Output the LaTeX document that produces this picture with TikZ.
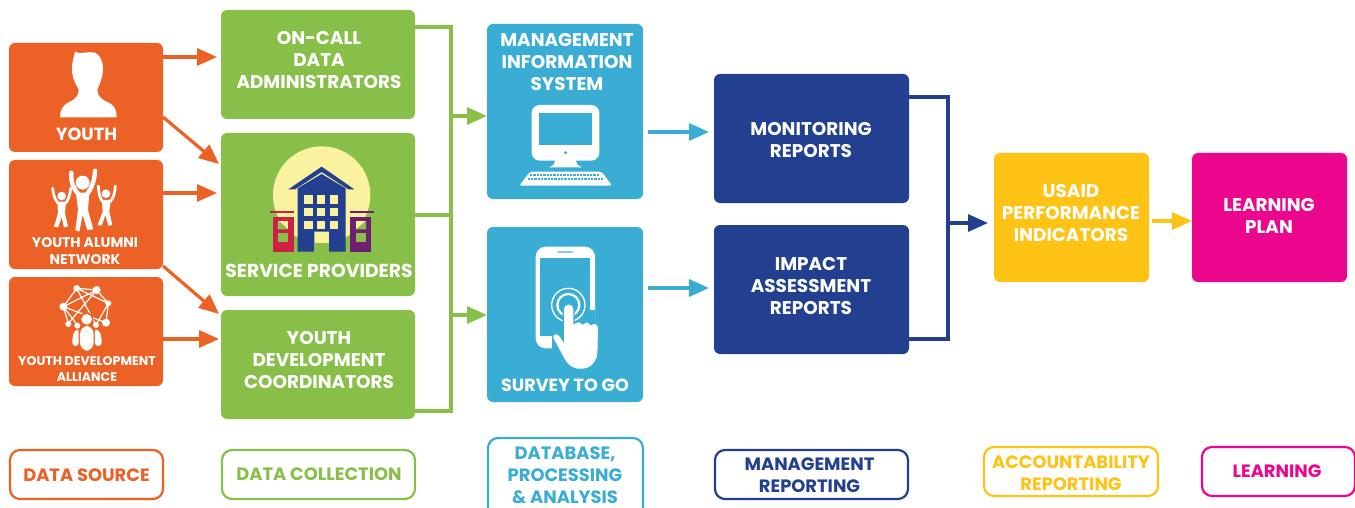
\documentclass[tikz,border=0pt]{standalone}
\usepackage{fontspec}
\setmainfont{Poppins}
\usetikzlibrary{arrows.meta,calc}
\definecolor{cOr}{HTML}{EC6125}
\definecolor{cGr}{HTML}{88BF49}
\definecolor{cBl}{HTML}{39ADD4}
\definecolor{cNv}{HTML}{233F8F}
\definecolor{cYe}{HTML}{FEC314}
\definecolor{cPk}{HTML}{EC068D}
\definecolor{cSun}{HTML}{FBF29F}
\definecolor{cRed}{HTML}{D01F45}
\definecolor{cPu}{HTML}{6E1F6E}
\tikzset{
 x=1pt,y=-1pt,
 panel/.style={rounded corners=6pt,anchor=north west,inner sep=0pt,outer sep=0pt},
 lbl/.style={font=\fontsize{18.4}{22.4}\selectfont\bfseries,text=white,align=center,inner sep=0pt},
 lblb/.style={font=\fontsize{17.6}{22.4}\selectfont\bfseries,text=white,align=center,inner sep=0pt},
 sml/.style={font=\fontsize{14}{17.6}\selectfont\bfseries,text=white,align=center,inner sep=0pt},
 smlr/.style={font=\fontsize{12.6}{16}\selectfont\bfseries,text=white,align=center,inner sep=0pt},
 legend/.style={panel,draw,fill=white,line width=2.2pt,rounded corners=10pt},
 ltxt/.style={font=\fontsize{17.9}{22}\selectfont\bfseries,align=center,inner sep=0pt},
 conn/.style={line width=3.4pt},
 arr/.style={line width=3.2pt,-{Triangle[length=20pt,width=17pt]}},
}
\newcommand{\pbox}[6]{\node[panel,fill=#2,minimum width=#5pt,minimum height=#6pt] (#1) at (#3,#4) {};}
\begin{document}
\begin{tikzpicture}
\clip (0,0) rectangle (1355,508);
\fill[white] (0,0) rectangle (1355,508);
% panels
\pbox{youth}{cOr}{9}{43}{154}{109}
\pbox{alumni}{cOr}{9}{160}{154}{109}
\pbox{alliance}{cOr}{9}{277}{154}{109}
\pbox{oncall}{cGr}{221}{10}{194}{109}
\pbox{service}{cGr}{221}{133}{194}{163}
\pbox{coord}{cGr}{221}{310}{194}{109}
\pbox{mis}{cBl}{487}{24}{156}{175}
\pbox{survey}{cBl}{487}{227}{156}{175}
\pbox{monitor}{cNv}{714}{74}{195}{129}
\pbox{impact}{cNv}{714}{225}{195}{129}
\pbox{usaid}{cYe}{994}{153}{155}{129}
\pbox{plan}{cPk}{1192}{153}{155}{129}
% panel labels
\node[lbl] (toncall) at (319,60) {ON-CALL\\DATA\\ADMINISTRATORS};
\node[lbl] (tcoord) at (319,360) {YOUTH\\DEVELOPMENT\\COORDINATORS};
\node[lbl] (tmon) at (811,140) {MONITORING\\REPORTS};
\node[lbl] (timp) at (811,286) {IMPACT\\ASSESSMENT\\REPORTS};
\node[lbl] (tusa) at (1071,213) {USAID\\PERFORMANCE\\INDICATORS};
\node[lbl] (tpla) at (1269,216) {LEARNING\\PLAN};
\node[lblb] (tyouth) at (86.5,134) {YOUTH};
\node[sml] (talumni) at (85,251) {YOUTH ALUMNI\\NETWORK};
\node[smlr] (talliance) at (87,369.5) {YOUTH DEVELOPMENT\\ALLIANCE};
\node[font=\fontsize{18.8}{22}\selectfont\bfseries,text=white,inner sep=0pt] (tservice) at (319,271) {SERVICE PROVIDERS};
\node[lbl] (tmis) at (567,62) {MANAGEMENT\\INFORMATION\\SYSTEM};
\node[lblb] (tsurvey) at (565,385) {SURVEY TO GO};
% connectors
\coordinate (gbus) at (451,27);
\coordinate (gb) at (451,411);
\draw[cGr,conn] (oncall.east|-gbus) -- (gbus) -- (gb) -- (coord.east|-gb);
\coordinate (gs) at (451,215);
\draw[cGr,conn] (service.east|-gs) -- (gs);
\coordinate (g1) at (451,116);\coordinate (g2) at (451,315);
\draw[cGr,arr] (g1) -- (mis.west|-g1);
\draw[cGr,arr] (g2) -- (survey.west|-g2);
\coordinate (o1) at (163,57);\coordinate (o1e) at (217,57);
\draw[cOr,arr] (o1) -- (o1e);
\coordinate (o2) at (163,117);\coordinate (o2e) at (219,164);
\draw[cOr,arr] (o2) -- (o2e);
\coordinate (o3) at (163,193);\coordinate (o3e) at (217,193);
\draw[cOr,arr] (o3) -- (o3e);
\coordinate (o4) at (163,266);\coordinate (o4e) at (219,314);
\draw[cOr,arr] (o4) -- (o4e);
\coordinate (o5) at (163,339);\coordinate (o5e) at (219,339);
\draw[cOr,arr] (o5) -- (o5e);
\coordinate (b1) at (648,132);\coordinate (b2) at (648,288);
\coordinate (b1e) at (709,132);\coordinate (b2e) at (709,288);
\draw[cBl,arr] (b1) -- (b1e);
\draw[cBl,arr] (b2) -- (b2e);
\coordinate (nb) at (948,97);\coordinate (nb2) at (948,339);\coordinate (nm) at (948,223);\coordinate (nme) at (988,223);
\draw[cNv,conn] (monitor.east|-nb) -- (nb) -- (nb2) -- (impact.east|-nb2);
\draw[cNv,arr] (nm) -- (nme);
\coordinate (y1) at (1152,221);
\draw[cYe,arr] (y1) -- (plan.west|-y1);
% legends
\node[legend,draw=cOr,minimum width=153pt,minimum height=49pt] (l1) at (10,450) {};
\node[legend,draw=cGr,minimum width=193pt,minimum height=49pt] (l2) at (222,450) {};
\node[legend,draw=cBl,minimum width=155pt,minimum height=80pt] (l3) at (488,438) {};
\node[legend,draw=cNv,minimum width=193pt,minimum height=49pt] (l4) at (715,450) {};
\node[legend,draw=cYe,minimum width=174pt,minimum height=49pt] (l5) at (984,447) {};
\node[legend,draw=cPk,minimum width=153pt,minimum height=49pt] (l6) at (1202,447) {};
\node[ltxt,text=cOr] (t1) at (86.5,475) {DATA SOURCE};
\node[ltxt,text=cGr] (t2) at (319,474) {DATA COLLECTION};
\node[ltxt,text=cBl] (t3) at (565,475.5) {DATABASE,\\PROCESSING\\\& ANALYSIS};
\node[ltxt,text=cNv] (t4) at (809.5,475) {MANAGEMENT\\REPORTING};
\node[ltxt,text=cYe] (t5) at (1071,473) {ACCOUNTABILITY\\REPORTING};
\node[ltxt,text=cPk] (t6) at (1277,471) {LEARNING};
% youth icon (zoom coordinates)
\begin{scope}[shift={(0,30)},scale=1/3]
\fill[white] (225,65) .. controls (240,75) and (265,62) .. (285,68) .. controls (305,78) and (312,105) .. (308,130) .. controls (305,150) and (298,165) .. (292,178) .. controls (292,195) and (300,205) .. (320,215) .. controls (345,225) and (350,240) .. (350,262) -- (180,262) .. controls (180,240) and (188,225) .. (210,215) .. controls (228,207) and (236,195) .. (236,178) .. controls (225,160) and (215,140) .. (216,115) .. controls (216,95) and (222,80) .. (225,65) -- cycle;
% alumni figures
\fill[white] (248,458) circle (21);
\draw[white,line width=4.4pt,line cap=round,line join=round] (214,428) .. controls (212,460) and (222,478) .. (235,492) (285,422) .. controls (284,455) and (272,478) .. (262,492);
\fill[white] (228,488) -- (268,488) -- (264,540) -- (280,598) -- (262,600) -- (248,555) -- (238,605) -- (226,600) -- (234,540) -- cycle;
\fill[white] (185,498) circle (13);\fill[white] (318,491) circle (13);
\draw[white,line width=2.8pt,line cap=round,line join=round] (158,475) .. controls (160,495) and (165,510) .. (175,520) (212,475) .. controls (210,495) and (205,510) .. (197,520)
 (295,468) .. controls (296,490) and (300,505) .. (308,515) (346,468) .. controls (345,490) and (340,505) .. (330,515);
\fill[white] (172,515) -- (198,515) -- (195,550) -- (204,590) -- (192,592) -- (185,562) -- (174,592) -- (162,590) -- (174,550) -- cycle;
\fill[white] (305,510) -- (332,510) -- (328,545) -- (337,585) -- (325,587) -- (316,555) -- (305,587) -- (293,585) -- (308,545) -- cycle;
% network
\draw[white,line width=1.2pt] (230,775) -- (290,780) -- (325,820) -- (318,878) (230,775) -- (190,830) -- (205,880) (230,775) -- (325,820) (290,780) -- (190,830) (230,775) -- (288,885) (190,830) -- (318,878) (290,780) -- (205,880) (190,830) -- (232,885) (325,820) -- (288,885);
\foreach \a/\b/\r in {230/775/10,290/780/12,325/820/9,190/830/12,205/882/9,232/887/9,288/885/9,318/878/12}{\fill[white] (\a,\b) circle (\r);}
\fill[cOr] (260,868) circle (21);
\fill[white] (260,868) circle (16);
\fill[white,rounded corners=3pt] (217,925) -- (222,905) -- (236,895) -- (236,948) -- (217,948) -- cycle;
\fill[white,rounded corners=3pt] (305,925) -- (300,905) -- (285,895) -- (285,948) -- (305,948) -- cycle;
\fill[white,rounded corners=8pt] (240,888) rectangle (281,962);
\end{scope}
% building (zoom coordinates)
\begin{scope}[shift={(215,130)},scale=1/3]
\fill[cSun] (320,195) circle (146);
\fill[cRed] (173,260) rectangle (237,365);
\fill[cRed] (165,243) rectangle (237,249);
\fill[cPu] (405,260) rectangle (468,365);
\fill[cPu] (405,243) rectangle (476,249);
\foreach \a in {190,423}{
 \fill[cSun] (\a,272) rectangle +(30,26);
 \fill[cGr] (\a,310) rectangle +(30,26);}
\fill[cGr] (190,298) -- (220,298) -- (190,272) -- cycle;
\fill[cGr] (453,298) -- (423,298) -- (453,272) -- cycle;
\fill[cNv] (248,175) -- (320,132) -- (392,175) -- (392,365) -- (342,365) -- (342,305) -- (298,305) -- (298,365) -- (248,365) -- cycle;
\fill[cNv] (220,178) -- (320,110) -- (418,178) -- (400,178) -- (320,126) -- (240,178) -- cycle;
\foreach \a in {268,306,345}\foreach \b in {196,234,273}{\fill[cSun] (\a,\b) rectangle +(25,25);}
\fill[cGr] (298,340) rectangle (342,365);
\end{scope}
% computer and phone (zoom coordinates)
\begin{scope}[shift={(480,90)},scale=1/3]
\fill[white,rounded corners=8pt] (155,45) rectangle (358,212);
\fill[cBl] (178,68) rectangle (335,165);
\fill[cBl] (257,188) circle (5);
\fill[white] (228,205) -- (285,205) -- (292,224) -- (305,232) -- (208,232) -- (221,224) -- cycle;
\fill[white,rounded corners=2pt] (150,245) -- (365,245) -- (396,287) -- (118,287) -- cycle;
\foreach \y/\s/\n in {253/150/20,263/143/22}{\foreach \i in {0,...,\n}{\fill[cBl] ({\s+\i*10},\y) rectangle +(7,6);}}
% phone
\fill[white,rounded corners=10pt] (167,470) rectangle (345,775);
\fill[cBl] (181,503) rectangle (331,738);
\fill[cBl,rounded corners=2pt] (232,484) rectangle (280,488);
\fill[cBl] (331,660) rectangle (345,800);
\fill[cBl] (215,738) rectangle (345,800);
\draw[white,line width=1.3pt] (265,645) circle (50);
\draw[white,line width=2.2pt] (265,645) circle (33);
\fill[white,draw=cBl,line width=1.2pt] (250,660) .. controls (250,635) and (282,635) .. (282,660) -- (282,700) .. controls (295,692) and (305,695) .. (308,702) .. controls (318,692) and (328,695) .. (332,704) .. controls (342,695) and (356,700) .. (356,715) -- (354,790) .. controls (350,825) and (325,840) .. (300,838) .. controls (275,838) and (260,825) .. (248,800) -- (218,745) .. controls (215,730) and (232,725) .. (240,738) -- (250,752) -- cycle;
\end{scope}
\end{tikzpicture}
\end{document}
